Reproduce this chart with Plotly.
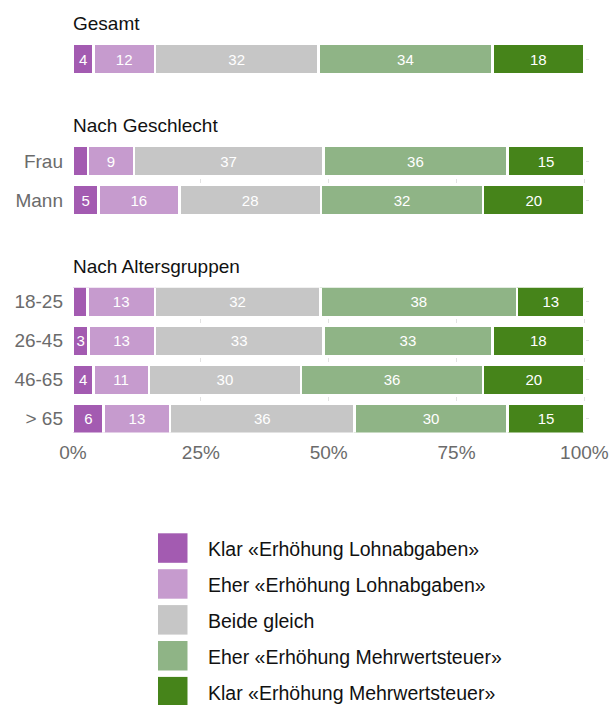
import plotly.graph_objects as go

# Rows of the chart and the section each one belongs to
row_labels = ["Gesamt", "Frau", "Mann", "18-25", "26-45", "46-65", "> 65"]
row_section = [0, 1, 1, 2, 2, 2, 2]
section_titles = ["Gesamt", "Nach Geschlecht", "Nach Altersgruppen"]

# Answer categories (stacked left to right)
series_names = [
    "Klar «Erhöhung Lohnabgaben»",
    "Eher «Erhöhung Lohnabgaben»",
    "Beide gleich",
    "Eher «Erhöhung Mehrwertsteuer»",
    "Klar «Erhöhung Mehrwertsteuer»",
]
series_colors = ["#A35BB1", "#C69BCE", "#C6C6C6", "#8FB486", "#46841A"]

# Shares in percent, one value per row
klar_lohn = [4, 2.9, 5, 2.8, 3, 4, 6]
eher_lohn = [12, 9, 16, 13, 13, 11, 13]
beide_gleich = [32, 37, 28, 32, 33, 30, 36]
eher_mwst = [34, 36, 32, 38, 33, 36, 30]
klar_mwst = [18, 15, 20, 13, 18, 20, 15]
series_values = [klar_lohn, eher_lohn, beide_gleich, eher_mwst, klar_mwst]

x_tick_values = [0, 25, 50, 75, 100]
x_tick_labels = ["0%", "25%", "50%", "75%", "100%"]

# ---- layout constants (pixels) ----
W, H = 614, 705
FONT = "Liberation Sans"
TEXT_SIZE = 19
LEGEND_SIZE = 19.5
LABEL_SIZE = 15
ROW_PITCH = 39          # distance between bar centres
BAR_PX = 28             # visible bar thickness
OUTLINE = 2.5           # white separator between segments
PLOT_LEFT, PLOT_RIGHT = 73, 589
X_MAX = 100.9
panel_tops = [45, 147, 287.5]
title_y = [23, 125, 266]
GRID = "#E2E2E2"
TICK_GREY = "#6B6B6B"


def px_x(p):
    return p / W


def px_y(p):
    return 1 - p / H


half = (BAR_PX / 2) / ROW_PITCH
bar_width = (BAR_PX + OUTLINE) / ROW_PITCH

fig = go.Figure()
layout_axes = {}

for s_idx, title in enumerate(section_titles):
    suf = "" if s_idx == 0 else str(s_idx + 1)
    rows = [i for i, g in enumerate(row_section) if g == s_idx]
    labels = [row_labels[i] for i in rows]
    n = len(rows)

    for name, color, values in zip(series_names, series_colors, series_values):
        vals = [values[i] for i in rows]
        fig.add_trace(go.Bar(
            x=vals,
            y=labels,
            orientation="h",
            name=name,
            xaxis="x" + suf,
            yaxis="y" + suf,
            width=bar_width,
            marker=dict(color=color, line=dict(color="white", width=OUTLINE)),
            text=[f"{v:.0f}" if v >= 3 else "" for v in vals],
            textposition="inside",
            insidetextanchor="middle",
            textangle=0,
            constraintext="none",
            textfont=dict(color="white", size=LABEL_SIZE, family=FONT),
            showlegend=False,
            hovertemplate="%{y}: %{x:.0f}%<extra>" + name + "</extra>",
        ))

    top = panel_tops[s_idx]
    bottom = top + (n - 1) * ROW_PITCH + BAR_PX
    layout_axes["xaxis" + suf] = dict(
        domain=[px_x(PLOT_LEFT), px_x(PLOT_RIGHT)],
        anchor="y" + suf,
        range=[0, X_MAX],
        tickmode="array",
        tickvals=x_tick_values,
        ticktext=x_tick_labels,
        showticklabels=(s_idx == len(section_titles) - 1),
        ticks="",
        ticklabelstandoff=6,
        tickfont=dict(size=TEXT_SIZE, color=TICK_GREY, family=FONT),
        showgrid=True,
        gridcolor=GRID,
        gridwidth=1,
        griddash="0px,31.5px,4px,3.5px",
        zeroline=False,
        showline=False,
        fixedrange=True,
    )
    layout_axes["yaxis" + suf] = dict(
        domain=[px_y(bottom), px_y(top)],
        anchor="x" + suf,
        type="category",
        categoryorder="array",
        categoryarray=labels,
        range=[n - 1 + half, -half],
        showticklabels=(s_idx > 0),
        ticks="",
        ticklabelstandoff=9,
        tickfont=dict(size=TEXT_SIZE, color=TICK_GREY, family=FONT),
        showgrid=True,
        gridcolor=GRID,
        gridwidth=1,
        griddash="0px,513px,3px,20px",
        zeroline=False,
        showline=False,
        fixedrange=True,
    )

annotations = []
for s_idx, title in enumerate(section_titles):
    annotations.append(dict(
        text=title, xref="paper", yref="paper",
        x=px_x(PLOT_LEFT - 2.5), y=px_y(title_y[s_idx]),
        xanchor="left", yanchor="middle", showarrow=False,
        font=dict(size=TEXT_SIZE, color="#111111", family=FONT),
    ))

# Legend: colour swatch plus label for each answer category
shapes = []
LEG_X0, LEG_SIZE, LEG_TOP, LEG_PITCH, LEG_TEXT_X = 158, 29.5, 533.3, 35.9, 206
for k, (name, color) in enumerate(zip(series_names, series_colors)):
    y0 = LEG_TOP + k * LEG_PITCH
    shapes.append(dict(
        type="rect", xref="paper", yref="paper",
        x0=px_x(LEG_X0), x1=px_x(LEG_X0 + LEG_SIZE),
        y0=px_y(y0 + LEG_SIZE), y1=px_y(y0),
        fillcolor=color, line=dict(width=0), layer="above",
    ))
    annotations.append(dict(
        text=name, xref="paper", yref="paper",
        x=px_x(LEG_TEXT_X), y=px_y(y0 + LEG_SIZE / 2 + 1),
        xanchor="left", yanchor="middle", showarrow=False,
        font=dict(size=LEGEND_SIZE, color="#111111", family=FONT),
    ))

fig.update_layout(
    width=W,
    height=H,
    margin=dict(l=0, r=0, t=0, b=0),
    template="none",
    paper_bgcolor="white",
    plot_bgcolor="white",
    barmode="stack",
    barnorm="percent",
    showlegend=False,
    font=dict(family=FONT, size=TEXT_SIZE, color="#111111"),
    uniformtext=dict(minsize=LABEL_SIZE, mode="show"),
    annotations=annotations,
    shapes=shapes,
    **layout_axes,
)

fig.write_html("out.html")
